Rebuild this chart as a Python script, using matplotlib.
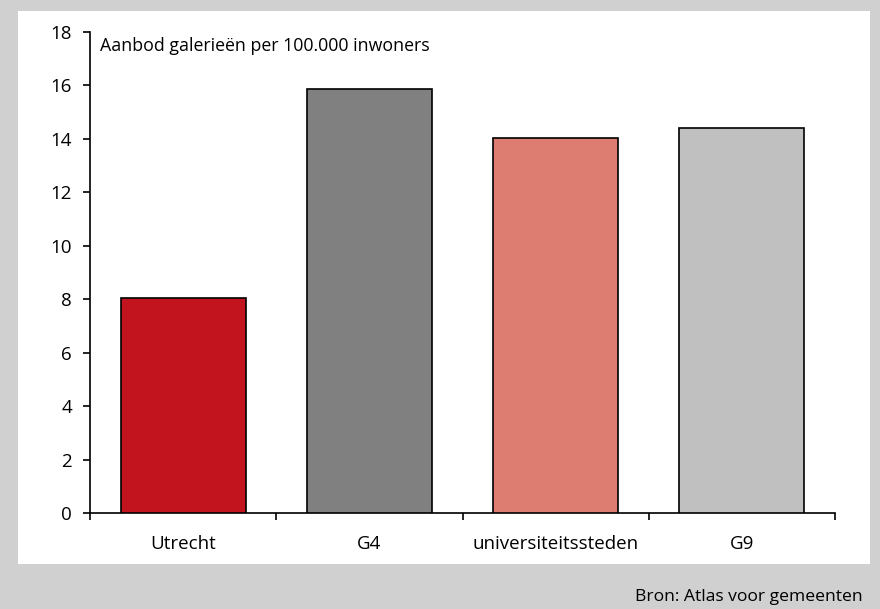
import matplotlib
matplotlib.use("Agg")
import matplotlib.pyplot as plt

categories = ["Utrecht", "G4", "universiteitssteden", "G9"]
values = [8.03, 15.87, 14.02, 14.41]
colors = ["#c1141f", "#808080", "#dd7c71", "#c0c0c0"]
yticks = [0, 2, 4, 6, 8, 10, 12, 14, 16, 18]

plt.rcParams['font.family'] = ['Open Sans', 'DejaVu Sans']

W, H = 880, 609
fig = plt.figure(figsize=(W/100, H/100), dpi=100)
fig.patch.set_facecolor("#d0d0d0")
# white panel
bg = fig.add_axes([18/W, 1 - 564/H, (870-18)/W, (564-11)/H], zorder=0)
bg.set_facecolor("white")
bg.set_xticks([]); bg.set_yticks([])
for s in bg.spines.values():
    s.set_visible(False)

ax = fig.add_axes([90/W, 1 - 513/H, (835-90)/W, (513-32)/H], zorder=1)
ax.set_facecolor("none")
pos = [i + 0.5 for i in range(len(categories))]
ax.bar(pos, values, width=0.67, color=colors, edgecolor="black", linewidth=1.2, zorder=3)

ax.set_xlim(0, len(categories))
ax.set_ylim(0, 18)
ax.set_yticks(yticks)
ax.set_yticklabels([str(v) for v in yticks], fontsize=13.5)
ax.set_xticks(pos)
ax.set_xticklabels(categories, fontsize=13.5)
ax.set_xticks(range(len(categories) + 1), minor=True)
ax.tick_params(axis="x", which="major", length=0, pad=16)
ax.tick_params(axis="x", which="minor", length=5, width=1.2, direction="out")
ax.tick_params(axis="y", length=5, width=1.2, direction="out", pad=8)
for s in ["top", "right"]:
    ax.spines[s].set_visible(False)
for s in ["left", "bottom"]:
    ax.spines[s].set_linewidth(1.2)

ax.text(0.013, 0.970, "Aanbod galerieën per 100.000 inwoners", transform=ax.transAxes,
        fontsize=12.8, va="center", ha="left")

fig.text(863/W, 1 - 597/H, "Bron: Atlas voor gemeenten", fontsize=12.6,
         ha="right", va="center")

fig.savefig("out.png", dpi=100, facecolor=fig.get_facecolor())
